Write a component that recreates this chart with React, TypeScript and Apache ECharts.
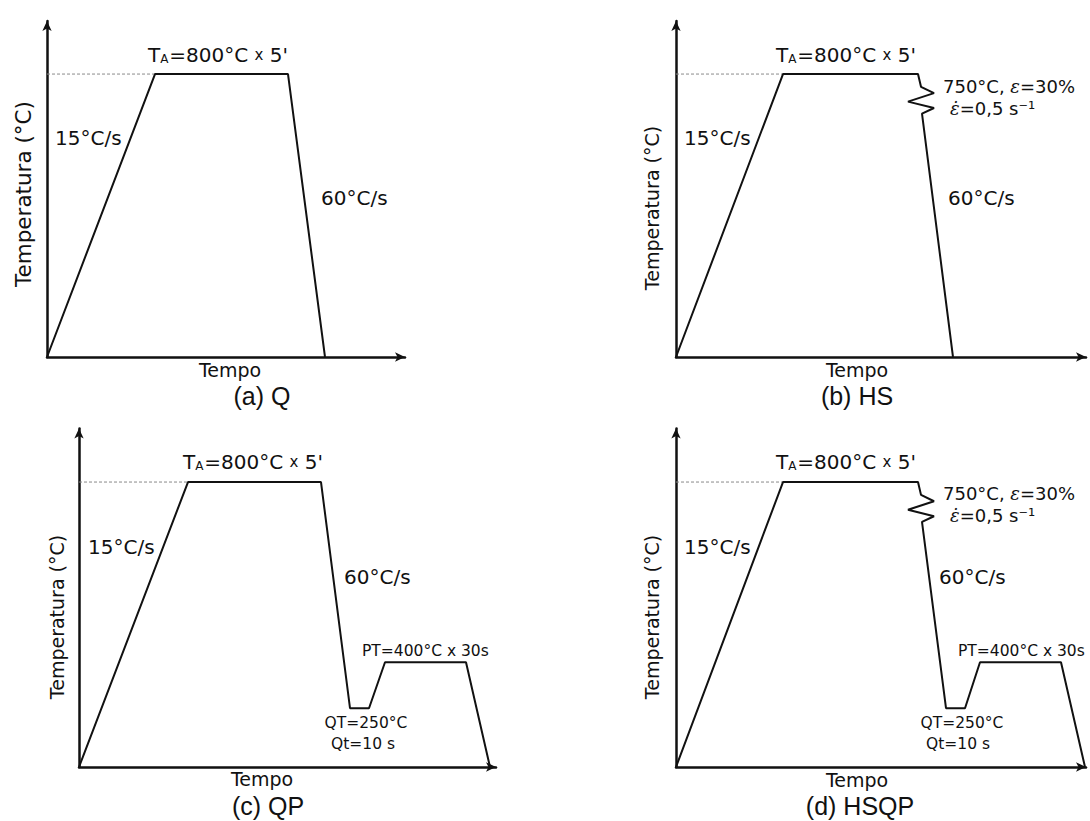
import React, { useEffect, useRef } from 'react';
import * as echarts from 'echarts';

// Schematic thermal cycles: [time (schematic units), temperature (°C, schematic)]
const Y_MAX = 950;
const T_HOLD = 800;
const profileQ = [[0, 0], [108, 800], [241, 800], [278, 0]];
const profileHS = [[0, 0], [107, 800], [242, 800], [245, 764], [258, 746], [232, 722], [258, 704], [246, 688], [277, 0]];
const profileQP = [[0, 0], [109, 800], [242, 800], [271, 165], [290, 165], [306, 294], [387, 294], [411, 0]];
const profileHSQP = [[0, 0], [107, 800], [242, 800], [245, 764], [258, 746], [232, 722], [258, 704], [246, 688], [270, 165], [289, 165], [304, 294], [385, 294], [409, 0]];
const profiles = [profileQ, profileHS, profileQP, profileHSQP];
const heatEnd = [108, 107, 109, 107];
const timeMax = [358, 410, 417, 410];
const panelTitles = ['(a) Q', '(b) HS', '(c) QP', '(d) HSQP'];

const grids = [
  { left: 47, top: 21, width: 358, height: 336 },
  { left: 676, top: 21, width: 410, height: 336 },
  { left: 79, top: 428.6, width: 417, height: 338.4 },
  { left: 676, top: 428.6, width: 410, height: 338.4 },
];

const SANS = 'DejaVu Sans';
const SERIF = 'DejaVu Serif';
const ARIAL = 'Liberation Sans';
const INK = '#111';

function txt(x: number, y: number, text: string, size: number, align = 'left', extra: any = {}) {
  return {
    type: 'text', x, y, silent: true, rotation: extra.rotation || 0,
    style: {
      text, fill: INK, fontSize: size, fontFamily: extra.family || SANS,
      align, verticalAlign: 'middle', rich: extra.rich,
    },
  };
}

function taLabel(x: number, y: number) {
  return txt(x, y, "{t|T}{s|A}{t|=800°C }{x|x}{t| 5'}", 20, 'center', {
    rich: {
      t: { fontSize: 20, fontFamily: SANS, fill: INK },
      s: { fontSize: 12, fontFamily: SANS, fill: INK, verticalAlign: 'bottom', padding: [0, 1, 0, 0] },
      x: { fontSize: 15, fontFamily: SANS, fill: INK },
    },
  });
}

function strainLabels(x: number, y: number) {
  return [
    txt(x, y, '{n|750°C, }{e|ε}{n|=30%}', 18, 'left', {
      rich: {
        n: { fontSize: 18, fontFamily: SANS, fill: INK },
        e: { fontSize: 18, fontFamily: SERIF, fontStyle: 'italic', fill: INK },
      },
    }),
    txt(x + 7, y + 22, '{e|ε\u0307}{n|=0,5 s⁻¹}', 18, 'left', {
      rich: {
        n: { fontSize: 18, fontFamily: SANS, fill: INK },
        e: { fontSize: 18, fontFamily: SERIF, fontStyle: 'italic', fill: INK },
      },
    }),
  ];
}

function vlabel(x: number, y: number, size: number) {
  return txt(x, y, 'Temperatura (°C)', size, 'center', { rotation: Math.PI / 2 });
}

const graphics: any[] = [
  // (a)
  vlabel(23, 194, 21.5), taLabel(218, 55),
  txt(55, 138, '15°C/s', 20), txt(321, 198, '60°C/s', 20),
  txt(230, 370, 'Tempo', 19, 'center'),
  txt(262, 396, panelTitles[0], 25, 'center', { family: ARIAL }),
  // (b)
  vlabel(652, 208, 19), taLabel(846, 55),
  txt(684, 138, '15°C/s', 20), txt(948, 198, '60°C/s', 20),
  ...strainLabels(943, 86),
  txt(857, 370, 'Tempo', 19, 'center'),
  txt(857, 396, panelTitles[1], 25, 'center', { family: ARIAL }),
  // (c)
  vlabel(57, 617, 19), taLabel(253, 462),
  txt(88, 547, '15°C/s', 20), txt(344, 577, '60°C/s', 20),
  txt(362, 651, 'PT=400°C x 30s', 15.5),
  txt(366, 723, 'QT=250°C', 15.5, 'center'),
  txt(363, 744, 'Qt=10 s', 15.5, 'center'),
  txt(262, 779, 'Tempo', 19, 'center'),
  txt(268, 806, panelTitles[2], 25, 'center', { family: ARIAL }),
  // (d)
  vlabel(652, 617, 19), taLabel(846, 462),
  txt(684, 547, '15°C/s', 20), txt(939, 577, '60°C/s', 20),
  ...strainLabels(943, 493),
  txt(958, 651, 'PT=400°C x 30s', 15.5),
  txt(962, 723, 'QT=250°C', 15.5, 'center'),
  txt(958, 744, 'Qt=10 s', 15.5, 'center'),
  txt(857, 780, 'Tempo', 19, 'center'),
  txt(860, 806, panelTitles[3], 25, 'center', { family: ARIAL }),
];

export default function App() {
  const ref = useRef<HTMLDivElement>(null);
  useEffect(() => {
    if (!ref.current) return;
    const chart = echarts.init(ref.current, null, { renderer: 'svg' });
    const axisLine = {
      show: true, onZero: false, symbol: ['none', 'arrow'], symbolSize: [7, 10],
      lineStyle: { color: INK, width: 2.5 },
    };
    const option: any = {
      animation: false,
      backgroundColor: '#ffffff',
      grid: grids.map((g) => ({ ...g, containLabel: false })),
      xAxis: grids.map((_, i) => ({
        gridIndex: i, type: 'value', min: 0, max: timeMax[i],
        axisLine, axisTick: { show: false }, axisLabel: { show: false }, splitLine: { show: false },
      })),
      yAxis: grids.map((_, i) => ({
        gridIndex: i, type: 'value', min: 0, max: Y_MAX,
        axisLine, axisTick: { show: false }, axisLabel: { show: false }, splitLine: { show: false },
      })),
      series: [
        ...profiles.map((p, i) => ({
          type: 'line', xAxisIndex: i, yAxisIndex: i, data: p, symbol: 'none', clip: false, silent: true,
          lineStyle: { color: INK, width: 2 }, z: 3,
        })),
        ...heatEnd.map((h, i) => ({
          type: 'line', xAxisIndex: i, yAxisIndex: i, data: [[0, T_HOLD], [h, T_HOLD]], symbol: 'none', silent: true,
          lineStyle: { color: '#8a8a8a', width: 1, type: [3, 2] }, z: 2,
        })),
      ],
      graphic: graphics,
    };
    chart.setOption(option);
    return () => chart.dispose();
  }, []);
  return (
    <div
      ref={ref}
      style={{ position: 'fixed', left: 0, top: 0, width: 1090, height: 821, background: '#fff' }}
    />
  );
}
